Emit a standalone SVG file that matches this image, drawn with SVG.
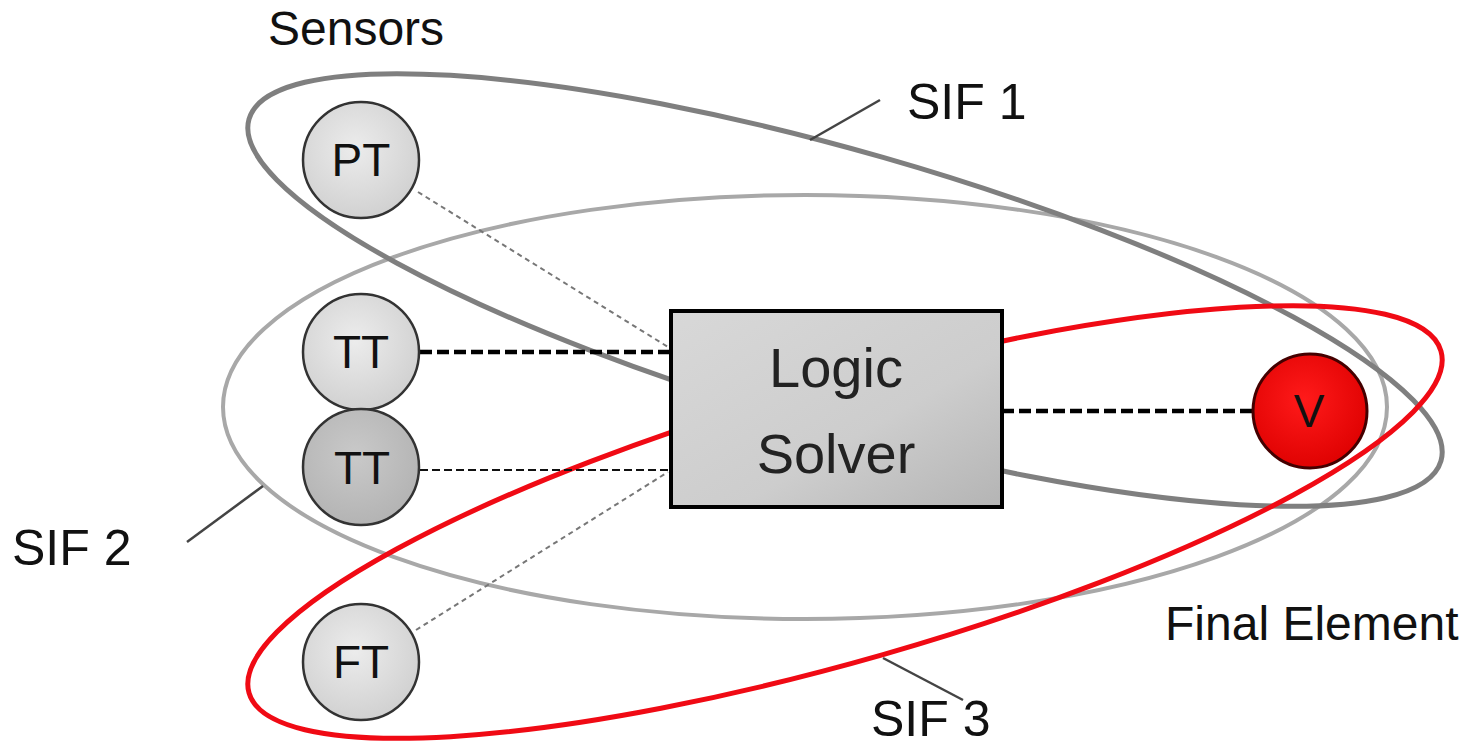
<svg xmlns="http://www.w3.org/2000/svg" width="1464" height="746" viewBox="0 0 1464 746">
  <defs>
    <radialGradient id="sensorFill" cx="0.45" cy="0.4" r="0.65">
      <stop offset="0" stop-color="#ececec"/>
      <stop offset="1" stop-color="#cfcfcf"/>
    </radialGradient>
    <radialGradient id="sensorDark" cx="0.45" cy="0.4" r="0.65">
      <stop offset="0" stop-color="#c9c9c9"/>
      <stop offset="1" stop-color="#b2b2b2"/>
    </radialGradient>
    <radialGradient id="valveFill" cx="0.45" cy="0.4" r="0.65">
      <stop offset="0" stop-color="#ff1a1a"/>
      <stop offset="1" stop-color="#dd0000"/>
    </radialGradient>
    <linearGradient id="boxFill" x1="0" y1="0" x2="1" y2="1">
      <stop offset="0" stop-color="#d8d8d8"/>
      <stop offset="0.6" stop-color="#cdcdcd"/>
      <stop offset="1" stop-color="#b4b4b4"/>
    </linearGradient>
  </defs>
  <style>
    text { font-family: "Liberation Sans", Arial, sans-serif; fill: #111; }
    .label { font-size: 48px; }
    .sif { font-size: 50px; }
    .node { font-size: 46px; text-anchor: middle; }
    .solver { font-size: 56px; text-anchor: middle; fill: #222; }
    .sensor { stroke: #333; stroke-width: 2.5; }
    .loop { fill: none; }
    .leader { stroke: #444; stroke-width: 2.5; fill: none; }
    .thick { stroke: #000; stroke-width: 4.5; stroke-dasharray: 12 5; fill: none; }
    .thin { stroke: #111; stroke-width: 2.2; stroke-dasharray: 8 4; fill: none; }
    .faint { stroke: #777; stroke-width: 2; stroke-dasharray: 5 4; fill: none; }
  </style>

  <rect width="1464" height="746" fill="#fff"/>

  <!-- safety instrumented function loops -->
  <g id="loops">
    <ellipse id="sif2-loop" class="loop" cx="805" cy="407" rx="582" ry="212" stroke="#a8a8a8" stroke-width="4"/>
    <ellipse id="sif1-loop" class="loop" cx="845" cy="290" rx="620" ry="138" transform="rotate(16 845 290)" stroke="#7f7f7f" stroke-width="5"/>
    <ellipse id="sif3-loop" class="loop" cx="845" cy="522" rx="620" ry="138" transform="rotate(-16 845 522)" stroke="#f00a14" stroke-width="5"/>
  </g>

  <!-- signal connectors -->
  <g id="connectors">
    <line class="faint" x1="418" y1="192" x2="668" y2="347"/>
    <line class="thick" x1="420" y1="352" x2="671" y2="352"/>
    <line class="thin" x1="420" y1="470" x2="671" y2="470"/>
    <line class="faint" x1="416" y1="630" x2="668" y2="472"/>
    <line class="thick" x1="1002" y1="411" x2="1253" y2="411"/>
  </g>

  <!-- leader lines for the loop labels -->
  <g id="leaders">
    <line class="leader" x1="880" y1="100" x2="810" y2="140"/>
    <line class="leader" x1="187" y1="542" x2="263" y2="486"/>
    <line class="leader" x1="883" y1="658" x2="963" y2="700"/>
  </g>

  <g id="logic-solver">
    <rect x="671" y="311" width="331" height="196" fill="url(#boxFill)" stroke="#000" stroke-width="4"/>
    <text class="solver" x="836" y="387">Logic</text>
    <text class="solver" x="836" y="473">Solver</text>
  </g>

  <g id="pt">
    <circle class="sensor" cx="361" cy="160" r="58" fill="url(#sensorFill)"/>
    <text class="node" x="361" y="176">PT</text>
  </g>
  <g id="tt1">
    <circle class="sensor" cx="361" cy="352" r="58" fill="url(#sensorFill)"/>
    <text class="node" x="361" y="368">TT</text>
  </g>
  <g id="tt2">
    <circle class="sensor" cx="361" cy="467" r="58" fill="url(#sensorDark)"/>
    <text class="node" x="362" y="484">TT</text>
  </g>
  <g id="ft">
    <circle class="sensor" cx="361" cy="662" r="58" fill="url(#sensorFill)"/>
    <text class="node" x="361" y="678">FT</text>
  </g>
  <g id="valve">
    <circle cx="1310" cy="411" r="57" fill="url(#valveFill)" stroke="#400" stroke-width="3"/>
    <text class="node" x="1309" y="427">V</text>
  </g>

  <g id="labels">
    <text class="label" x="268" y="45">Sensors</text>
    <text class="sif" x="907" y="119">SIF 1</text>
    <text class="sif" x="12" y="565">SIF 2</text>
    <text class="sif" x="871" y="736">SIF 3</text>
    <text class="label" x="1165" y="640">Final Element</text>
  </g>
</svg>
